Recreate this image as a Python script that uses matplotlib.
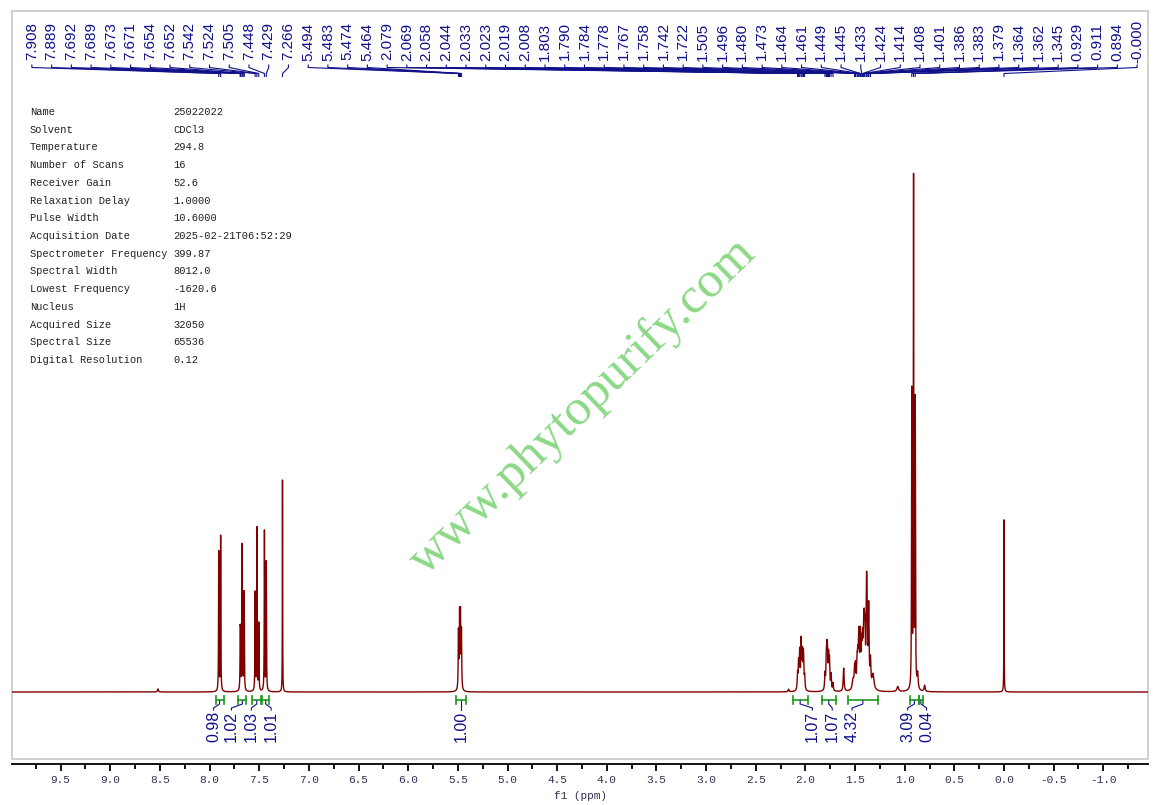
import matplotlib
matplotlib.use('Agg')
import matplotlib.pyplot as plt
import numpy as np
from matplotlib.patches import Rectangle

# 谱线 (ppm, 强度, 半峰宽)
line_ppm = [8.52,
            7.908, 7.889,
            7.692, 7.689, 7.673, 7.671, 7.654, 7.652,
            7.542, 7.524, 7.505,
            7.448, 7.429,
            7.266,
            5.494, 5.483, 5.474, 5.464,
            2.17,
            2.079, 2.069, 2.058, 2.044, 2.033, 2.023, 2.019, 2.008,
            1.803, 1.790, 1.784, 1.778, 1.767, 1.758, 1.742, 1.722,
            1.615,
            1.52,
            1.505, 1.496, 1.480, 1.473, 1.464, 1.461, 1.449, 1.445, 1.433,
            1.424, 1.414, 1.408, 1.401, 1.386, 1.383, 1.379, 1.364, 1.362, 1.345,
            1.32, 1.07,
            0.929, 0.911, 0.894, 0.87, 0.80,
            0.000]
line_height = [0.6,
               27, 30,
               9.0, 9.0, 17, 17, 11.5, 11.5,
               19, 31.5, 13,
               31, 25,
               41,
               11, 14, 14, 11,
               0.5,
               3, 5, 7, 9, 6.5, 4.5, 4.5, 2.5,
               3, 5.5, 6, 6, 6, 5.5, 3, 1.5,
               4.5,
               2,
               3.5, 4, 4.5, 5, 5.5, 5.5, 6, 6, 7,
               7.5, 8, 8.5, 9, 9.5, 9.5, 9, 8, 8, 5,
               3, 1,
               57, 98, 55, 3, 1.2,
               33.3]
line_width = [0.005,
              0.0022, 0.0022,
              0.0022, 0.0022, 0.0022, 0.0022, 0.0022, 0.0022,
              0.0022, 0.0022, 0.0022,
              0.0022, 0.0022,
              0.0015,
              0.003, 0.003, 0.003, 0.003,
              0.005,
              0.004, 0.004, 0.004, 0.004, 0.004, 0.004, 0.004, 0.004,
              0.004, 0.004, 0.004, 0.004, 0.004, 0.004, 0.004, 0.004,
              0.005,
              0.01,
              0.0045, 0.0045, 0.0045, 0.0045, 0.0045, 0.0045, 0.0045, 0.0045, 0.0045,
              0.0045, 0.0045, 0.0045, 0.0045, 0.0045, 0.0045, 0.0045, 0.0045, 0.0045, 0.0045,
              0.012, 0.01,
              0.0025, 0.0025, 0.0025, 0.006, 0.006,
              0.0015]

# 峰标注
peak_labels = ['7.908', '7.889', '7.692', '7.689', '7.673', '7.671', '7.654', '7.652',
               '7.542', '7.524', '7.505', '7.448', '7.429', '7.266',
               '5.494', '5.483', '5.474', '5.464',
               '2.079', '2.069', '2.058', '2.044', '2.033', '2.023', '2.019', '2.008',
               '1.803', '1.790', '1.784', '1.778', '1.767', '1.758', '1.742', '1.722',
               '1.505', '1.496', '1.480', '1.473', '1.464', '1.461', '1.449', '1.445',
               '1.433', '1.424', '1.414', '1.408', '1.401', '1.386', '1.383', '1.379',
               '1.364', '1.362', '1.345', '0.929', '0.911', '0.894', '-0.000']

# 积分
integ_lo = [7.94, 7.71, 7.57, 7.47, 5.52, 2.13, 1.835, 1.573, 0.948, 0.857]
integ_hi = [7.86, 7.63, 7.48, 7.40, 5.42, 1.976, 1.694, 1.270, 0.857, 0.817]
integ_vals = ['0.98', '1.02', '1.03', '1.01', '1.00', '1.07', '1.07', '4.32', '3.09', '0.04']
integ_label_ppm = [7.96, 7.78, 7.58, 7.38, 5.47, 1.93, 1.73, 1.53, 0.97, 0.78]

# 参数表
param_keys = ['Name', 'Solvent', 'Temperature', 'Number of Scans', 'Receiver Gain',
              'Relaxation Delay', 'Pulse Width', 'Acquisition Date',
              'Spectrometer Frequency', 'Spectral Width', 'Lowest Frequency',
              'Nucleus', 'Acquired Size', 'Spectral Size', 'Digital Resolution']
param_vals = ['25022022', 'CDCl3', '294.8', '16', '52.6', '1.0000', '10.6000',
              '2025-02-21T06:52:29', '399.87', '8012.0', '-1620.6', '1H',
              '32050', '65536', '0.12']

W, H = 1160, 805
NAVY = '#10108a'
RED = '#800000'
GREEN = '#1a9a1a'

# 像素 y -> 数据 y
Y0 = 692
UNIT = (692 - 175) / 100.0


def py(ypix):
    return (Y0 - ypix) / UNIT


fig = plt.figure(figsize=(W / 100, H / 100), dpi=100)
ax = fig.add_axes([12 / W, 1 - 759 / H, 1136 / W, 748 / H])

x = np.linspace(10.0, -1.5, 60000)
y = np.zeros_like(x)
for p, h, g in zip(line_ppm, line_height, line_width):
    y += h * g ** 2 / ((x - p) ** 2 + g ** 2)
ax.plot(x, y, color=RED, lw=1.0)

ax.set_xlim(9.99, -1.45)
ax.set_ylim(py(759), py(11))

# 顶部峰标注
label_x = np.linspace(9.79, -1.34, len(peak_labels))
for lx, lab in zip(label_x, peak_labels):
    p = float(lab)
    ax.text(lx, py(41.5), lab, rotation=90, ha='center', va='center',
            fontsize=11, color=NAVY, family='Liberation Sans')
    ax.plot([lx, lx, p, p], [py(64.5), py(67.5), py(73.5), py(77)],
            color=NAVY, lw=0.8, solid_capstyle='butt')

# 积分
for lo, hi, v, lp in zip(integ_lo, integ_hi, integ_vals, integ_label_ppm):
    yb = py(700)
    ax.plot([lo, hi], [yb, yb], color=GREEN, lw=1.2)
    for e in (lo, hi):
        ax.plot([e, e], [py(696), py(704)], color=GREEN, lw=1.2)
    mid = (lo + hi) / 2
    ax.plot([mid, mid, lp, lp], [py(701), py(704), py(708), py(710)],
            color=NAVY, lw=0.8)
    ax.text(lp, py(711), v, rotation=90, ha='center', va='top',
            fontsize=11.5, color=NAVY, family='Liberation Sans')

# 坐标轴
for s in ['top', 'left', 'right']:
    ax.spines[s].set_visible(False)
ax.add_patch(Rectangle((0, 0), 1, 1, transform=ax.transAxes, fill=False,
                       ec='#c8c8c8', lw=1.2, clip_on=False))
ax.spines['bottom'].set_position(('outward', 3.6))
ax.spines['bottom'].set_linewidth(1.3)
ax.set_yticks([])
ax.set_xticks(np.arange(9.5, -1.01, -0.5))
ax.set_xticks(np.arange(9.75, -1.3, -0.5), minor=True)
ax.set_xticklabels([f'{v:.1f}' for v in np.arange(9.5, -1.01, -0.5)],
                   family='Liberation Mono', fontsize=8, color='#303050')
ax.tick_params(axis='x', which='major', length=5, width=1.3, pad=3)
ax.tick_params(axis='x', which='minor', length=3.5, width=1.3)
fig.text(580 / W, 1 - 796 / H, 'f1 (ppm)', ha='center', va='center',
         family='Liberation Mono', fontsize=8, color='#303050')

# 参数表
for i, (k, v) in enumerate(zip(param_keys, param_vals)):
    yy = 1 - (112 + i * 17.71) / H
    fig.text(30 / W, yy, k, ha='left', va='center', family='Liberation Mono',
             fontsize=7.5, color='#202020')
    fig.text(173 / W, yy, v, ha='left', va='center', family='Liberation Mono',
             fontsize=7.5, color='#202020')

# 水印
fig.text(583 / W, 1 - 407 / H, 'www.phytopurify.com', rotation=44,
         ha='center', va='center', family='Liberation Serif', fontsize=37,
         color='#7fd47a', alpha=0.9)

fig.savefig('out.png', dpi=100)
